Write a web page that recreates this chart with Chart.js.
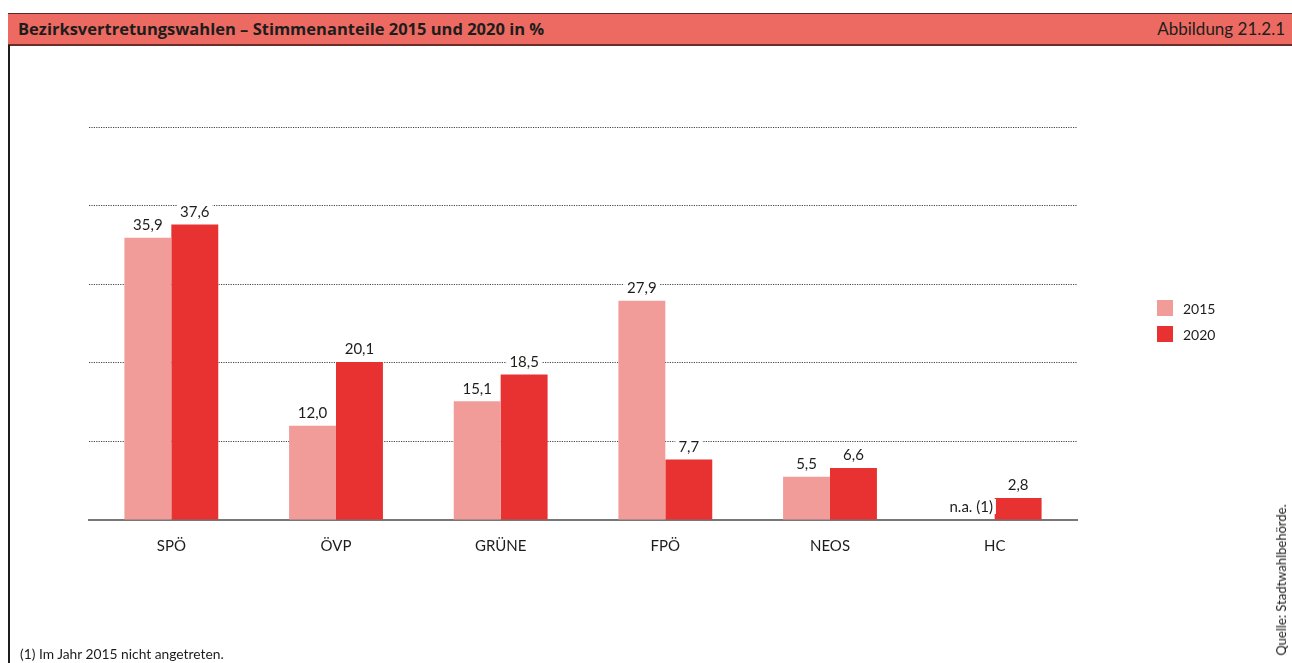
<!DOCTYPE html>
<html>
<head>
<meta charset="utf-8">
<script src="https://cdn.jsdelivr.net/npm/chart.js@4"></script>
<style>
    body { margin: 0; background: #fff; font-family: Lato, "Open Sans", sans-serif; color: #1d1d1b; }
    #wrap { position: relative; width: 1292px; height: 663px; overflow: hidden; }
    #head {
        position: absolute; left: 8px; top: 13px; width: 1284px; height: 30px;
        background: #ec6a62; border-top: 1px solid #5a2a27; border-bottom: 2px solid #6b2d2a;
        font-size: 17px; line-height: 30px;
    }
    #head .t { position: absolute; left: 10px; font-weight: bold; font-family: "Open Sans", sans-serif; font-size: 16.5px; }
    #head .n { position: absolute; right: 7px; }
    #leftline { position: absolute; left: 8px; top: 45px; width: 2px; height: 618px; background: #1d1d1b; }
    #legend { position: absolute; left: 1157px; top: 300px; font-size: 14px; }
    #legend div { height: 26px; display: flex; align-items: flex-start; }
    #legend span.box { width: 16px; height: 16px; margin-right: 10px; display: inline-block; }
    #legend span.lbl { line-height: 17px; }
    #foot { position: absolute; left: 20px; top: 645px; font-size: 13.8px; }
    #src {
        position: absolute; left: 1281px; top: 580px; font-size: 13px; white-space: nowrap;
        transform: translate(-50%, -50%) rotate(-90deg);
    }
    canvas { position: absolute; left: 0; top: 0; }
</style>
</head>
<body>
<div id="wrap">
    <canvas id="chart" width="1292" height="663"></canvas>
    <div id="head">
        <span class="t">Bezirksvertretungswahlen – Stimmenanteile 2015 und 2020 in %</span>
        <span class="n">Abbildung 21.2.1</span>
    </div>
    <div id="leftline"></div>
    <div id="legend"></div>
    <div id="foot">(1) Im Jahr 2015 nicht angetreten.</div>
    <div id="src">Quelle: Stadtwahlbehörde.</div>
</div>
<script>
// data
const parties = ['SPÖ', 'ÖVP', 'GRÜNE', 'FPÖ', 'NEOS', 'HC'];
const votes2015 = [35.9, 12.0, 15.1, 27.9, 5.5, null];
const votes2020 = [37.6, 20.1, 18.5, 7.7, 6.6, 2.8];
const seriesNames = ['2015', '2020'];
const seriesColors = ['#f29c9a', '#e83232'];
const yTicks = [0, 10, 20, 30, 40, 50];
const missingLabel = 'n.a. (1)';

const FONT = 'Lato, "Open Sans", sans-serif';

// html legend
document.getElementById('legend').innerHTML = seriesNames.map((n, i) =>
    `<div><span class="box" style="background:${seriesColors[i]}"></span><span class="lbl">${n}</span></div>`
).join('');

// value labels above bars (white box cuts the grid line)
const valueLabels = {
    id: 'valueLabels',
    afterDatasetsDraw(chart) {
        const ctx = chart.ctx;
        const yScale = chart.scales.y;
        ctx.save();
        ctx.font = '15px ' + FONT;
        ctx.textAlign = 'center';
        ctx.textBaseline = 'bottom';
        chart.data.datasets.forEach((ds, di) => {
            chart.getDatasetMeta(di).data.forEach((bar, i) => {
                const v = ds.data[i];
                const txt = v == null ? missingLabel : v.toFixed(1).replace('.', ',');
                const top = v == null ? yScale.getPixelForValue(0) : bar.y;
                const x = bar.x;
                const y = top - 5;
                const w = ctx.measureText(txt).width;
                ctx.fillStyle = '#fff';
                ctx.fillRect(x - w / 2 - 3, y - 16, w + 6, 15);
                ctx.fillStyle = '#1d1d1b';
                ctx.fillText(txt, x, y);
            });
        });
        ctx.restore();
    }
};

new Chart(document.getElementById('chart'), {
    type: 'bar',
    data: {
        labels: parties,
        datasets: [
            { label: seriesNames[0], data: votes2015, backgroundColor: seriesColors[0] },
            { label: seriesNames[1], data: votes2020, backgroundColor: seriesColors[1] }
        ]
    },
    options: {
        responsive: false,
        animation: false,
        categoryPercentage: 0.57,
        barPercentage: 1.0,
        layout: { padding: { left: 89, right: 215, top: 127, bottom: 99 } },
        plugins: { legend: { display: false }, tooltip: { enabled: false } },
        scales: {
            x: {
                grid: { display: false },
                border: { display: true, color: '#777', width: 2 },
                ticks: { color: '#1d1d1b', font: { family: FONT, size: 15 }, padding: 9 }
            },
            y: {
                min: yTicks[0],
                max: yTicks[yTicks.length - 1],
                afterBuildTicks: axis => { axis.ticks = yTicks.map(v => ({ value: v })); },
                ticks: { display: false },
                border: { display: false, dash: [1.2, 1.2] },
                grid: {
                    drawTicks: false,
                    color: c => c.tick.value === 0 ? 'transparent' : '#444',
                    lineWidth: 1
                }
            }
        }
    },
    plugins: [valueLabels]
});
</script>
</body>
</html>
